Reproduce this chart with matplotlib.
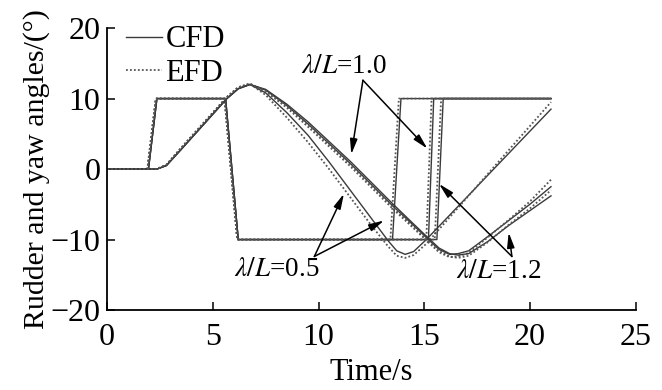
"""
Rudder and yaw angles vs time for three wave lengths, CFD vs EFD.
"""
import matplotlib.pyplot as plt

# rudder angle (deg) for each wave length, CFD and EFD
rud_t_05_cfd = [0, 1.95, 2.35, 5.6, 6.2, 13.5, 13.9, 21.0]
rud_t_05_efd = [0, 1.9, 2.3, 5.55, 6.15, 13.4, 13.8, 21.0]
rud_t_10_cfd = [0, 1.95, 2.35, 5.6, 6.2, 15.2, 15.45, 21.0]
rud_t_10_efd = [0, 1.9, 2.3, 5.55, 6.15, 15.1, 15.35, 21.0]
rud_t_12_cfd = [0, 1.95, 2.35, 5.6, 6.2, 15.6, 15.9, 21.0]
rud_t_12_efd = [0, 1.9, 2.3, 5.55, 6.15, 15.5, 15.8, 21.0]
rud_val = [0, 0, 10, 10, -10, -10, 10, 10]

# yaw angle (deg)
yaw_t_05 = [0, 2.35, 2.8, 3.5, 4.4, 5.0, 5.66, 6.2, 6.75, 7.5, 8.5, 9.5,
            10.5, 11.5, 12.5, 13.3, 13.7, 14.1, 14.5, 15.1, 21.0]
yaw_05_cfd = [0, 0, 0.5, 2.8, 5.8, 7.8, 10.0, 11.4, 12.0, 10.8, 8.0, 4.8,
              1.0, -3.0, -7.0, -10.2, -11.6, -12.1, -11.7, -10.0, 8.5]
yaw_05_efd = [0, 0, 0.6, 3.0, 6.0, 8.0, 10.2, 11.6, 12.1, 10.5, 7.3, 3.8,
              0.0, -4.0, -8.0, -11.0, -12.3, -12.6, -12.2, -10.6, 9.5]

yaw_t_1x = [0, 2.35, 2.8, 3.5, 4.4, 5.0, 5.66, 6.2, 6.75, 7.5, 8.5, 9.5,
            10.5, 11.5, 12.5, 13.5, 14.5, 15.2, 15.7, 16.2, 16.6, 17.1,
            18.0, 19.0, 20.0, 21.0]
yaw_10_cfd = [0, 0, 0.5, 2.8, 5.8, 7.8, 10.0, 11.4, 12.0, 11.2, 9.0, 6.4,
              3.6, 0.8, -2.2, -5.2, -8.0, -10.0, -11.4, -12.1, -12.0, -11.6,
              -9.6, -7.3, -5.0, -2.5]
yaw_10_efd = [0, 0, 0.6, 3.0, 6.0, 8.0, 10.2, 11.6, 12.1, 11.0, 8.7, 6.0,
              3.2, 0.4, -2.6, -5.6, -8.4, -10.4, -11.8, -12.5, -12.4, -11.9,
              -9.7, -7.2, -4.6, -1.5]
yaw_12_cfd = [0, 0, 0.5, 2.8, 5.8, 7.8, 10.0, 11.4, 12.0, 11.3, 9.2, 6.7,
              3.9, 1.1, -1.9, -4.9, -7.8, -9.8, -11.2, -12.0, -12.2, -12.0,
              -10.3, -8.0, -5.9, -3.8]
yaw_12_efd = [0, 0, 0.6, 3.0, 6.0, 8.0, 10.2, 11.6, 12.1, 11.1, 8.9, 6.3,
              3.5, 0.7, -2.3, -5.3, -8.2, -10.2, -11.6, -12.4, -12.6, -12.3,
              -10.4, -7.9, -5.6, -3.0]

x_ticks = [0, 5, 10, 15, 20, 25]
y_ticks = [-20, -10, 0, 10, 20]

plt.rcParams["font.family"] = ["Liberation Serif", "DejaVu Serif"]
plt.rcParams["mathtext.fontset"] = "stix"

CFD = dict(color="#3a3a3a", lw=1.0, ls="-")
EFD = dict(color="#555555", lw=1.3, ls=(0, (1, 1.2)))

fig = plt.figure(figsize=(6.62, 3.9), dpi=100)
ax = fig.add_axes([0.162, 0.205, 0.798, 0.723])

for t in (rud_t_05_cfd, rud_t_10_cfd, rud_t_12_cfd):
    ax.plot(t, rud_val, **CFD)
for t in (rud_t_05_efd, rud_t_10_efd, rud_t_12_efd):
    ax.plot(t, rud_val, **EFD)

ax.plot(yaw_t_05, yaw_05_cfd, **CFD, label="CFD")
ax.plot(yaw_t_05, yaw_05_efd, **EFD, label="EFD")
ax.plot(yaw_t_1x, yaw_10_cfd, **CFD)
ax.plot(yaw_t_1x, yaw_10_efd, **EFD)
ax.plot(yaw_t_1x, yaw_12_cfd, **CFD)
ax.plot(yaw_t_1x, yaw_12_efd, **EFD)

arrow = dict(arrowstyle="-|>,head_length=0.9,head_width=0.22",
             color="black", lw=1.1, shrinkA=0, shrinkB=0)
fs = 19.5

ax.annotate(r"$\lambda/L$=1.0", xy=(11.55, 2.1), xytext=(11.2, 14.5),
            ha="center", va="center", fontsize=fs)
ax.annotate("", xy=(11.55, 2.1), xytext=(12.1, 12.6), arrowprops=arrow)
ax.annotate("", xy=(15.15, 2.9), xytext=(12.1, 12.6), arrowprops=arrow)

ax.annotate(r"$\lambda/L$=0.5", xy=(11.2, -3.5), xytext=(8.0, -14.2),
            ha="center", va="center", fontsize=fs)
ax.annotate("", xy=(11.2, -3.5), xytext=(9.8, -12.4), arrowprops=arrow)
ax.annotate("", xy=(13.1, -7.3), xytext=(9.8, -12.4), arrowprops=arrow)

ax.annotate(r"$\lambda/L$=1.2", xy=(15.7, -2.1), xytext=(18.5, -14.5),
            ha="center", va="center", fontsize=fs)
ax.annotate("", xy=(15.7, -2.1), xytext=(19.15, -12.4), arrowprops=arrow)
ax.annotate("", xy=(19.0, -9.0), xytext=(19.15, -12.4), arrowprops=arrow)

ax.set_xlim(0, 25)
ax.set_ylim(-20, 20)
ax.set_xticks(x_ticks)
ax.set_yticks(y_ticks)
ax.tick_params(direction="in", length=6, width=1.1, labelsize=23)
ax.tick_params(axis="x", pad=9)
ax.tick_params(axis="y", pad=5)
for side in ("top", "right"):
    ax.spines[side].set_visible(False)
for side in ("left", "bottom"):
    ax.spines[side].set_linewidth(1.3)
ax.set_xlabel("Time/s", fontsize=22, labelpad=5)
ax.set_ylabel("Rudder and yaw angles/(°)", fontsize=21.5, labelpad=0)

ax.legend(loc="upper left", bbox_to_anchor=(0.0, 1.075), frameon=False,
          fontsize=22, handlelength=1.2, handletextpad=0.1,
          labelspacing=0.15, borderaxespad=0.2)

fig.savefig("out.png", dpi=100)
